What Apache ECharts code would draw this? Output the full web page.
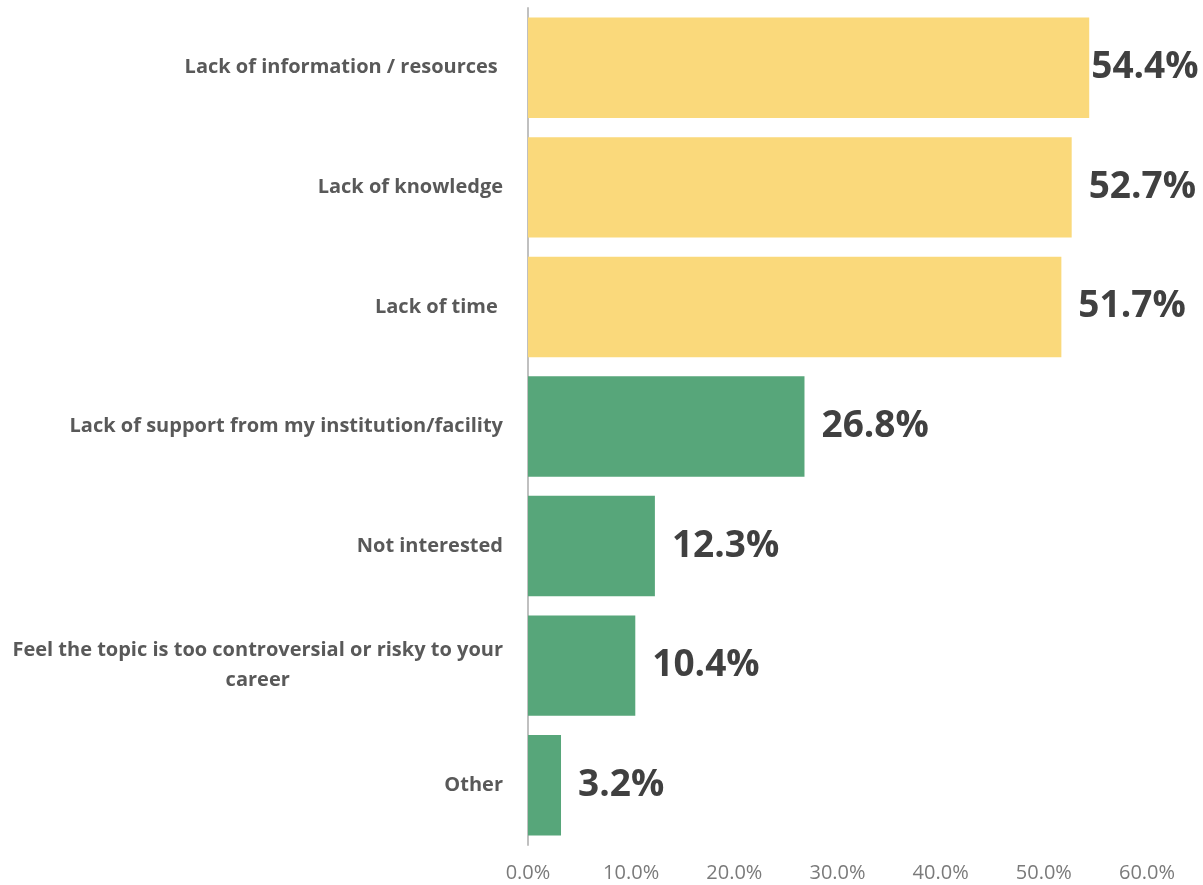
<!DOCTYPE html>
<html>
<head>
<meta charset="utf-8">
<script src="https://cdn.jsdelivr.net/npm/echarts@6/dist/echarts.min.js"></script>
<style>html,body{margin:0;padding:0;background:#fff}#c{width:1203px;height:885px}</style>
</head>
<body>
<div id="c"></div>
<script>
const categories = [
  "Lack of information / resources ",
  "Lack of knowledge",
  "Lack of time ",
  "Lack of support from my institution/facility",
  "Not interested",
  "Feel the topic is too controversial or risky to your career",
  "Other"
];
const values = [54.4, 52.7, 51.7, 26.8, 12.3, 10.4, 3.2];
const barColors = ["#FAD97B", "#FAD97B", "#FAD97B", "#57A67A", "#57A67A", "#57A67A", "#57A67A"];
const xTicks = [0, 10, 20, 30, 40, 50, 60];

const chart = echarts.init(document.getElementById('c'));
chart.setOption({
  animation: false,
  grid: { left: 528, right: 56, top: 8, bottom: 40, containLabel: false },
  xAxis: {
    type: 'value', min: xTicks[0], max: xTicks[xTicks.length - 1], interval: 10,
    axisLine: { show: false }, axisTick: { show: false }, splitLine: { show: false },
    axisLabel: {
      formatter: v => v.toFixed(1) + '%', color: '#7a7a7a', fontSize: 20,
      fontFamily: 'Open Sans', margin: 18
    }
  },
  yAxis: {
    type: 'category', data: categories, inverse: true,
    axisLine: { show: true, lineStyle: { color: '#c0c0c0', width: 2 } },
    axisTick: { show: false },
    axisLabel: {
      margin: 25, color: '#595959', fontSize: 20, fontWeight: 'bold', fontFamily: 'Open Sans',
      formatter: v => {
        if (v.length > 50) {
          const idx = v.lastIndexOf(' ', 52);
          return '{c|' + v.slice(0, idx) + '}\n{c|' + v.slice(idx + 1) + '}';
        }
        return v;
      },
      rich: { c: { align: 'center', color: '#595959', fontSize: 20, fontWeight: 'bold', fontFamily: 'Open Sans', lineHeight: 30 } }
    }
  },
  series: [{
    type: 'bar',
    barCategoryGap: '16%',
    data: values.map((v, i) => ({
      value: v,
      itemStyle: { color: barColors[i] },
      label: i === 0 ? { distance: 2 } : undefined
    })),
    label: {
      show: true, position: 'right', distance: 17,
      formatter: p => p.value.toFixed(1) + '%',
      color: '#404040', fontSize: 37, fontWeight: 'bold', fontFamily: 'Open Sans'
    }
  }]
});
</script>
</body>
</html>
